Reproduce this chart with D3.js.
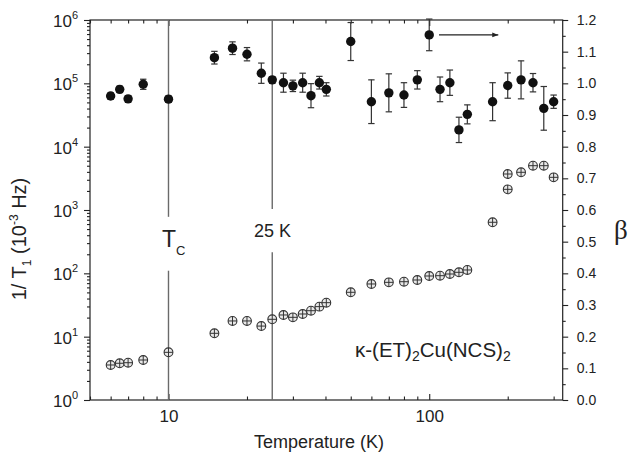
<!DOCTYPE html>
<html><head><meta charset="utf-8">
<script src="https://cdn.jsdelivr.net/npm/d3@7"></script>
<style>
body{margin:0;background:#fff}
text{font-family:"Liberation Sans",Arimo,Helvetica,sans-serif;fill:#222}
</style>
</head><body>
<svg id="c" width="637" height="453"></svg>
<script>
// ---- data ----
const betaT   = [6, 6.5, 7, 8, 10, 15, 17.6, 20, 22.7, 25, 27.6, 30, 32.7, 35.2, 37.9, 40.3, 50, 60, 70, 80, 90, 100, 110, 120, 130, 140, 175, 200, 225, 250, 275, 300];
const betaVals= [0.960, 0.981, 0.951, 0.997, 0.950, 1.081, 1.111, 1.092, 1.032, 1.011, 1.002, 0.992, 1.002, 0.961, 1.002, 0.981, 1.132, 0.942, 0.970, 0.963, 1.011, 1.153, 0.981, 1.002, 0.853, 0.902, 0.942, 0.993, 1.011, 1.002, 0.921, 0.942];
const betaErr = [0.010, 0.010, 0.010, 0.016, 0.010, 0.020, 0.020, 0.021, 0.032, 0.010, 0.030, 0.018, 0.030, 0.038, 0.020, 0.021, 0.060, 0.069, 0.060, 0.039, 0.029, 0.050, 0.039, 0.040, 0.040, 0.030, 0.060, 0.040, 0.060, 0.029, 0.069, 0.021];
const rateT   = [6, 6.5, 7, 8, 10, 15, 17.6, 20, 22.7, 25, 27.6, 30, 32.7, 35.2, 37.9, 40.3, 50, 60, 70, 80, 90, 100, 110, 120, 130, 140, 175, 200, 200, 225, 250, 275, 300];
const rateVals= [3.57, 3.8, 3.88, 4.28, 5.66, 11.3, 17.7, 17.7, 14.7, 18.8, 22.0, 20.2, 22.8, 25.7, 29.8, 34.4, 50.2, 67.9, 72.1, 73.8, 78.5, 90.8, 91.8, 97.6, 103.8, 113, 640, 3700, 2120, 3940, 5010, 5010, 3280];
const xMajorTicks = [10, 100];
const xMinorTicks = [5, 6, 7, 8, 9, 20, 30, 40, 50, 60, 70, 80, 90, 200, 300];
const leftExps = [0, 1, 2, 3, 4, 5, 6];
const rightTicks = [0, 0.1, 0.2, 0.3, 0.4, 0.5, 0.6, 0.7, 0.8, 0.9, 1.0, 1.1, 1.2];
const compound = ["κ-(ET)", "2", "Cu(NCS)", "2"];

// ---- setup ----
const svg = d3.select("#c");
const L = 90, R = 562.7, T = 20, B = 400;
const x  = d3.scaleLog().domain([5, 325]).range([L, R]);
const yL = d3.scaleLog().domain([1, 1e6]).range([B, T]);
const yR = d3.scaleLinear().domain([0, 1.2]).range([B, T]);
const ink = "#222";

function style(g){ g.select(".domain").remove(); g.selectAll("line").attr("stroke", ink).attr("stroke-width", 1.1); }

// bottom axis
svg.append("g").attr("transform", `translate(0,${B})`)
  .call(d3.axisBottom(x).tickValues(xMinorTicks).tickSize(-3.5).tickFormat("")).call(style);
svg.append("g").attr("transform", `translate(0,${B})`)
  .call(d3.axisBottom(x).tickValues(xMajorTicks).tickSize(-6).tickPadding(9.6).tickFormat(d3.format("d")))
  .call(style).call(g => g.selectAll("text").attr("font-size", 17).attr("fill", ink)
    .style("font-family", "'Liberation Sans',Arimo,sans-serif"));
// top axis
svg.append("g").attr("transform", `translate(0,${T})`)
  .call(d3.axisTop(x).tickValues(xMinorTicks).tickSize(-3.5).tickFormat("")).call(style);
svg.append("g").attr("transform", `translate(0,${T})`)
  .call(d3.axisTop(x).tickValues(xMajorTicks).tickSize(-6).tickFormat("")).call(style);

// left axis
const leftMinor = [];
leftExps.slice(0, -1).forEach(e => { for (let k = 2; k <= 9; k++) leftMinor.push(k * Math.pow(10, e)); });
svg.append("g").attr("transform", `translate(${L},0)`)
  .call(d3.axisLeft(yL).tickValues(leftMinor).tickSize(3).tickFormat("")).call(style);
svg.append("g").attr("transform", `translate(${L},0)`)
  .call(d3.axisLeft(yL).tickValues(leftExps.map(e => Math.pow(10, e))).tickSize(6).tickFormat("")).call(style);
leftExps.forEach(e => {
  const t = svg.append("text").attr("x", 78).attr("y", yL(Math.pow(10, e)) + 7)
    .attr("text-anchor", "end").attr("font-size", 17);
  t.append("tspan").text("10");
  t.append("tspan").attr("font-size", 11).attr("dy", -8).text(e);
});

// right axis
const rightMinor = d3.range(0.05, 1.2, 0.1);
svg.append("g").attr("transform", `translate(${R},0)`)
  .call(d3.axisRight(yR).tickValues(rightMinor).tickSize(3).tickFormat("")).call(style);
svg.append("g").attr("transform", `translate(${R},0)`)
  .call(d3.axisRight(yR).tickValues(rightTicks).tickSize(5.5).tickPadding(8.5).tickFormat(d3.format(".1f")))
  .call(style).call(g => g.selectAll("text").attr("font-size", 14).attr("fill", ink)
    .style("font-family", "'Liberation Sans',Arimo,sans-serif"));

// frame
svg.append("rect").attr("x", L).attr("y", T).attr("width", R - L).attr("height", B - T)
  .attr("fill", "none").attr("stroke", ink).attr("stroke-width", 1.2);

// vertical reference lines (segments in data units of left axis)
const vlines = [
  {t: 10, segs: [[1e6, 780], [110, 1]]},
  {t: 25, segs: [[1e6, 1040], [215, 1]]}
];
vlines.forEach(v => v.segs.forEach(s => {
  svg.append("line").attr("x1", x(v.t)).attr("x2", x(v.t))
    .attr("y1", yL(s[0])).attr("y2", yL(s[1]))
    .attr("stroke", "#6a6a6a").attr("stroke-width", 1.4);
}));

// labels for lines
const tc = svg.append("text").attr("x", 162).attr("y", 246.7).attr("font-size", 23);
tc.append("tspan").text("T");
tc.append("tspan").attr("font-size", 13).attr("dy", 8.5).text("C");
svg.append("text").attr("x", 254).attr("y", 236.7).attr("font-size", 18).text("25 K");

// beta error bars + points
const bg = svg.append("g");
betaT.forEach((t, i) => {
  const cx = x(t), lo = yR(betaVals[i] - betaErr[i]), hi = yR(betaVals[i] + betaErr[i]);
  bg.append("line").attr("x1", cx).attr("x2", cx).attr("y1", lo).attr("y2", hi).attr("stroke", "#333").attr("stroke-width", 1.2);
  [lo, hi].forEach(yy => bg.append("line").attr("x1", cx - 3.2).attr("x2", cx + 3.2).attr("y1", yy).attr("y2", yy).attr("stroke", "#333").attr("stroke-width", 1.2));
});
bg.selectAll("circle").data(betaT).join("circle")
  .attr("cx", d => x(d)).attr("cy", (d, i) => yR(betaVals[i])).attr("r", 4.7).attr("fill", "#111");

// rate points (crossed circles)
const rg = svg.append("g");
rateT.forEach((t, i) => {
  const cx = x(t), cy = yL(rateVals[i]), r = 4.4;
  rg.append("circle").attr("cx", cx).attr("cy", cy).attr("r", r).attr("fill", "#e8e8e8").attr("stroke", "#333").attr("stroke-width", 1.1);
  rg.append("line").attr("x1", cx - r).attr("x2", cx + r).attr("y1", cy).attr("y2", cy).attr("stroke", "#333").attr("stroke-width", 1);
  rg.append("line").attr("x1", cx).attr("x2", cx).attr("y1", cy - r).attr("y2", cy + r).attr("stroke", "#333").attr("stroke-width", 1);
});

// arrow pointing to right axis
svg.append("defs").append("marker").attr("id", "ah").attr("viewBox", "0 0 10 10")
  .attr("refX", 10).attr("refY", 5).attr("markerWidth", 10).attr("markerHeight", 6)
  .attr("markerUnits", "userSpaceOnUse").attr("orient", "auto")
  .append("path").attr("d", "M0,1 L10,5 L0,9 Z").attr("fill", "#222");
svg.append("line").attr("x1", x(109)).attr("x2", x(184)).attr("y1", yR(1.153)).attr("y2", yR(1.153))
  .attr("stroke", "#222").attr("stroke-width", 1.2).attr("marker-end", "url(#ah)");

// compound label
const cl = svg.append("text").attr("x", 355).attr("y", 357.3).attr("font-size", 20.5);
cl.append("tspan").text(compound[0]);
cl.append("tspan").attr("font-size", 14).attr("dy", 4).text(compound[1]);
cl.append("tspan").attr("dy", -4).text(compound[2]);
cl.append("tspan").attr("font-size", 14).attr("dy", 4).text(compound[3]);

// axis titles
svg.append("text").attr("x", 319).attr("y", 448).attr("text-anchor", "middle").attr("font-size", 18).text("Temperature (K)");
const yt = svg.append("text").attr("transform", "translate(26,239) rotate(-90)").attr("text-anchor", "middle").attr("font-size", 20);
yt.append("tspan").text("1/ T");
yt.append("tspan").attr("font-size", 12).attr("dy", 5).text("1");
yt.append("tspan").attr("dy", -5).text(" (10");
yt.append("tspan").attr("font-size", 12).attr("dy", -8).text("-3");
yt.append("tspan").attr("dy", 8).text(" Hz)");
svg.append("text").attr("x", 614).attr("y", 239).attr("font-size", 27)
  .style("font-family", "'Liberation Serif','Times New Roman',serif").text("β");
</script>
</body></html>
